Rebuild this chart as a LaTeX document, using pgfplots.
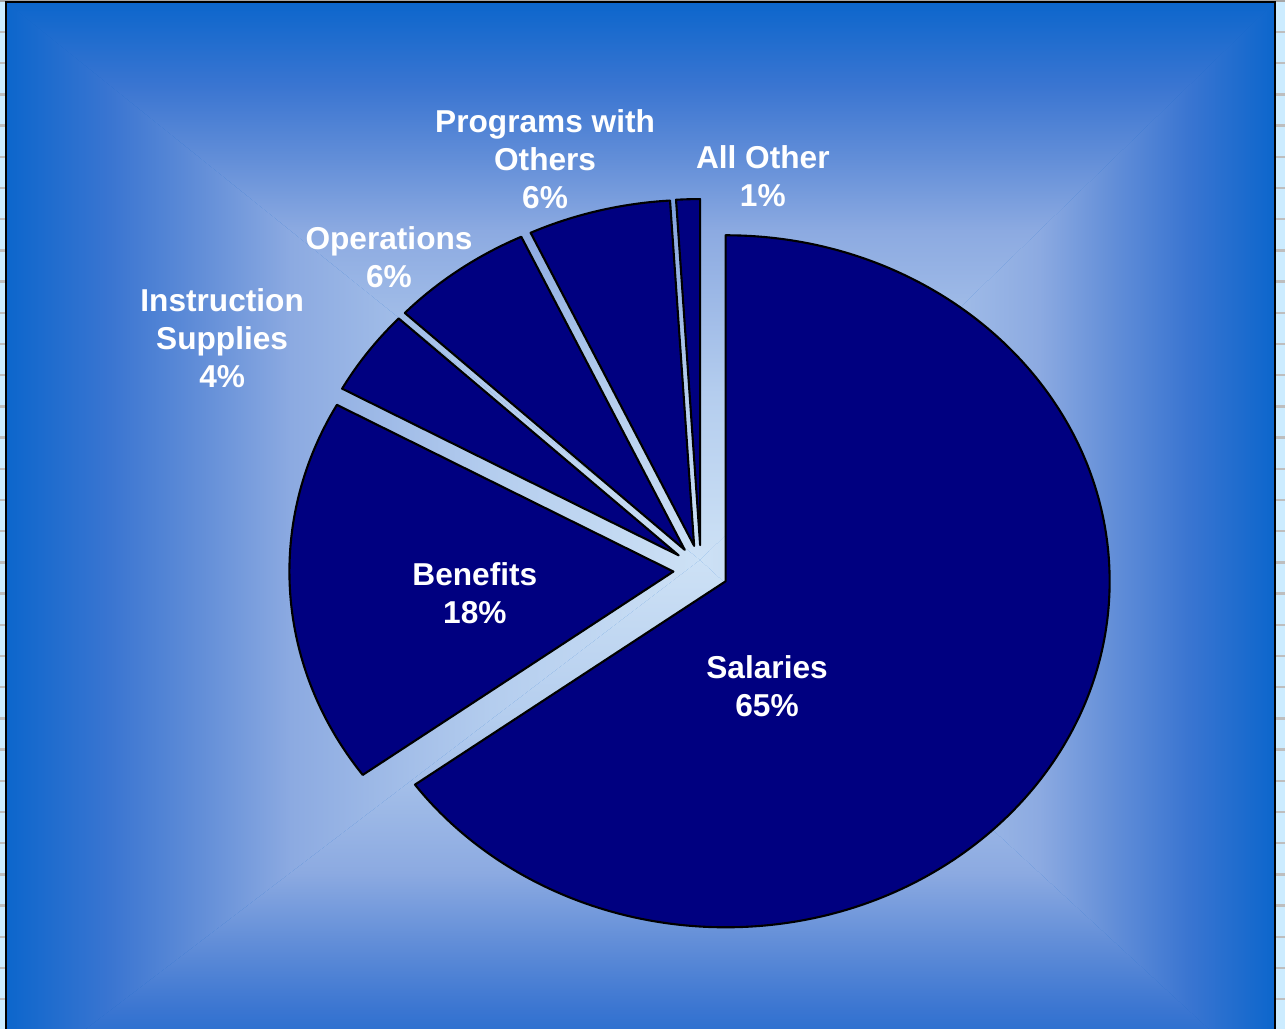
\documentclass[border=0pt]{standalone}
\usepackage{pgfplots}
\pgfplotsset{compat=1.18}
\usepackage{pgfplotstable}
\usepackage{fontspec}
\setmainfont{Liberation Sans}
\definecolor{sheet}{RGB}{204,236,255}
\definecolor{gridgray}{RGB}{190,190,190}
\definecolor{bgc}{RGB}{205,225,245}
\definecolor{bgmA}{RGB}{180,205,238}
\definecolor{bgmB}{RGB}{140,170,225}
\definecolor{bgmC}{RGB}{98,142,216}
\definecolor{bgmD}{RGB}{58,117,209}
\definecolor{bge}{RGB}{12,102,204}
\definecolor{pienavy}{RGB}{0,0,128}
\pgfdeclareverticalshading{bgv}{100bp}{color(0bp)=(bgc); color(25bp)=(bgc); color(40bp)=(bgmA); color(54.5bp)=(bgmB); color(61bp)=(bgmC); color(67.5bp)=(bgmD); color(75bp)=(bge); color(100bp)=(bge)}
\tikzset{lbl/.style={text=white, align=center, inner sep=0pt, font=\fontsize{9}{10.8}\selectfont\bfseries}}

\pgfplotstableread[col sep=comma]{
label,pct
Salaries,65
Benefits,18
Instruction Supplies,4
Operations,6
Programs with Others,6
All Other,1
}\piedata

\def\explode{0.072}
\newcommand\pieslice[1]{%
  \pgfmathsetmacro\slOX{\explode*cos(\csname mA#1\endcsname)}%
  \pgfmathsetmacro\slOY{\explode*sin(\csname mA#1\endcsname)}%
  \pgfmathsetmacro\slPX{\slOX+cos(\csname sA#1\endcsname)}%
  \pgfmathsetmacro\slPY{\slOY+sin(\csname sA#1\endcsname)}%
  \edef\sltemp{\noexpand\fill[pienavy, draw=black, line width=0.6pt, line join=round] (axis cs:\slOX,\slOY) -- (axis cs:\slPX,\slPY) arc[start angle=\csname sA#1\endcsname, end angle=\csname eA#1\endcsname, x radius=3.84cm, y radius=3.46cm] -- cycle;}%
  \sltemp
}

\begin{document}
\begin{tikzpicture}
\useasboundingbox (0,0) rectangle (12.85,10.29);
% spreadsheet strips
\fill[sheet] (0,0) rectangle (12.85,10.29);
\foreach \k in {0,...,32}{
  \pgfmathsetmacro\gy{10.29-0.32-0.312*\k}
  \draw[gridgray, line width=0.7pt] (0,\gy) -- (0.06,\gy) (12.76,\gy) -- (12.85,\gy);
}
\fill[gray!70] (0,10.27) rectangle (12.85,10.29);
% chart area background (rectangular gradient from centre)
\begin{scope}
\clip (0.06,0) rectangle (12.75,10.27);
\fill[bge] (0.06,0) rectangle (12.75,10.27);
\shade[shading=bgv, shading angle=0] (0.06,10.27) -- (12.75,10.27) -- (7.00,4.69) -- cycle;
\shade[shading=bgv, shading angle=180] (0.06,-0.61) -- (12.75,-0.61) -- (7.00,4.69) -- cycle;
\shade[shading=bgv, shading angle=90] (0.06,10.27) -- (0.06,-0.61) -- (7.00,4.69) -- cycle;
\shade[shading=bgv, shading angle=270] (12.75,10.27) -- (12.75,-0.61) -- (7.00,4.69) -- cycle;
\end{scope}
\draw[black, line width=0.8pt] (0.06,-0.1) -- (0.06,10.27) -- (12.75,10.27) -- (12.75,-0.1);
% slice angles from the table
\gdef\acc{90}
\foreach \i in {0,...,5}{%
  \pgfplotstablegetelem{\i}{pct}\of\piedata
  \pgfmathsetmacro\aS{\acc}%
  \pgfmathsetmacro\aE{\acc-3.6*\pgfplotsretval}%
  \pgfmathsetmacro\aM{(\aS+\aE)/2}%
  \expandafter\xdef\csname sA\i\endcsname{\aS}%
  \expandafter\xdef\csname eA\i\endcsname{\aE}%
  \expandafter\xdef\csname mA\i\endcsname{\aM}%
  \xdef\acc{\aE}%
}
\begin{axis}[at={(7.01cm,4.59cm)}, anchor=origin, x=3.84cm, y=3.46cm,
  xmin=-1.2, xmax=1.2, ymin=-1.1, ymax=1.1, hide axis, clip=false]
\pieslice{0}
\pieslice{1}
\pieslice{2}
\pieslice{3}
\pieslice{4}
\pieslice{5}
\node[lbl] at (axis cs:0.172,-0.335) {Salaries\\65\%};
\node[lbl] at (axis cs:-0.589,-0.066) {Benefits\\18\%};
\node[lbl] at (axis cs:-1.247,0.671) {Instruction\\Supplies\\4\%};
\node[lbl] at (axis cs:-0.8125,0.905) {Operations\\6\%};
\node[lbl] at (axis cs:-0.406,1.188) {Programs with\\Others\\6\%};
\node[lbl] at (axis cs:0.161,1.139) {All Other\\1\%};
\end{axis}
\end{tikzpicture}
\end{document}
